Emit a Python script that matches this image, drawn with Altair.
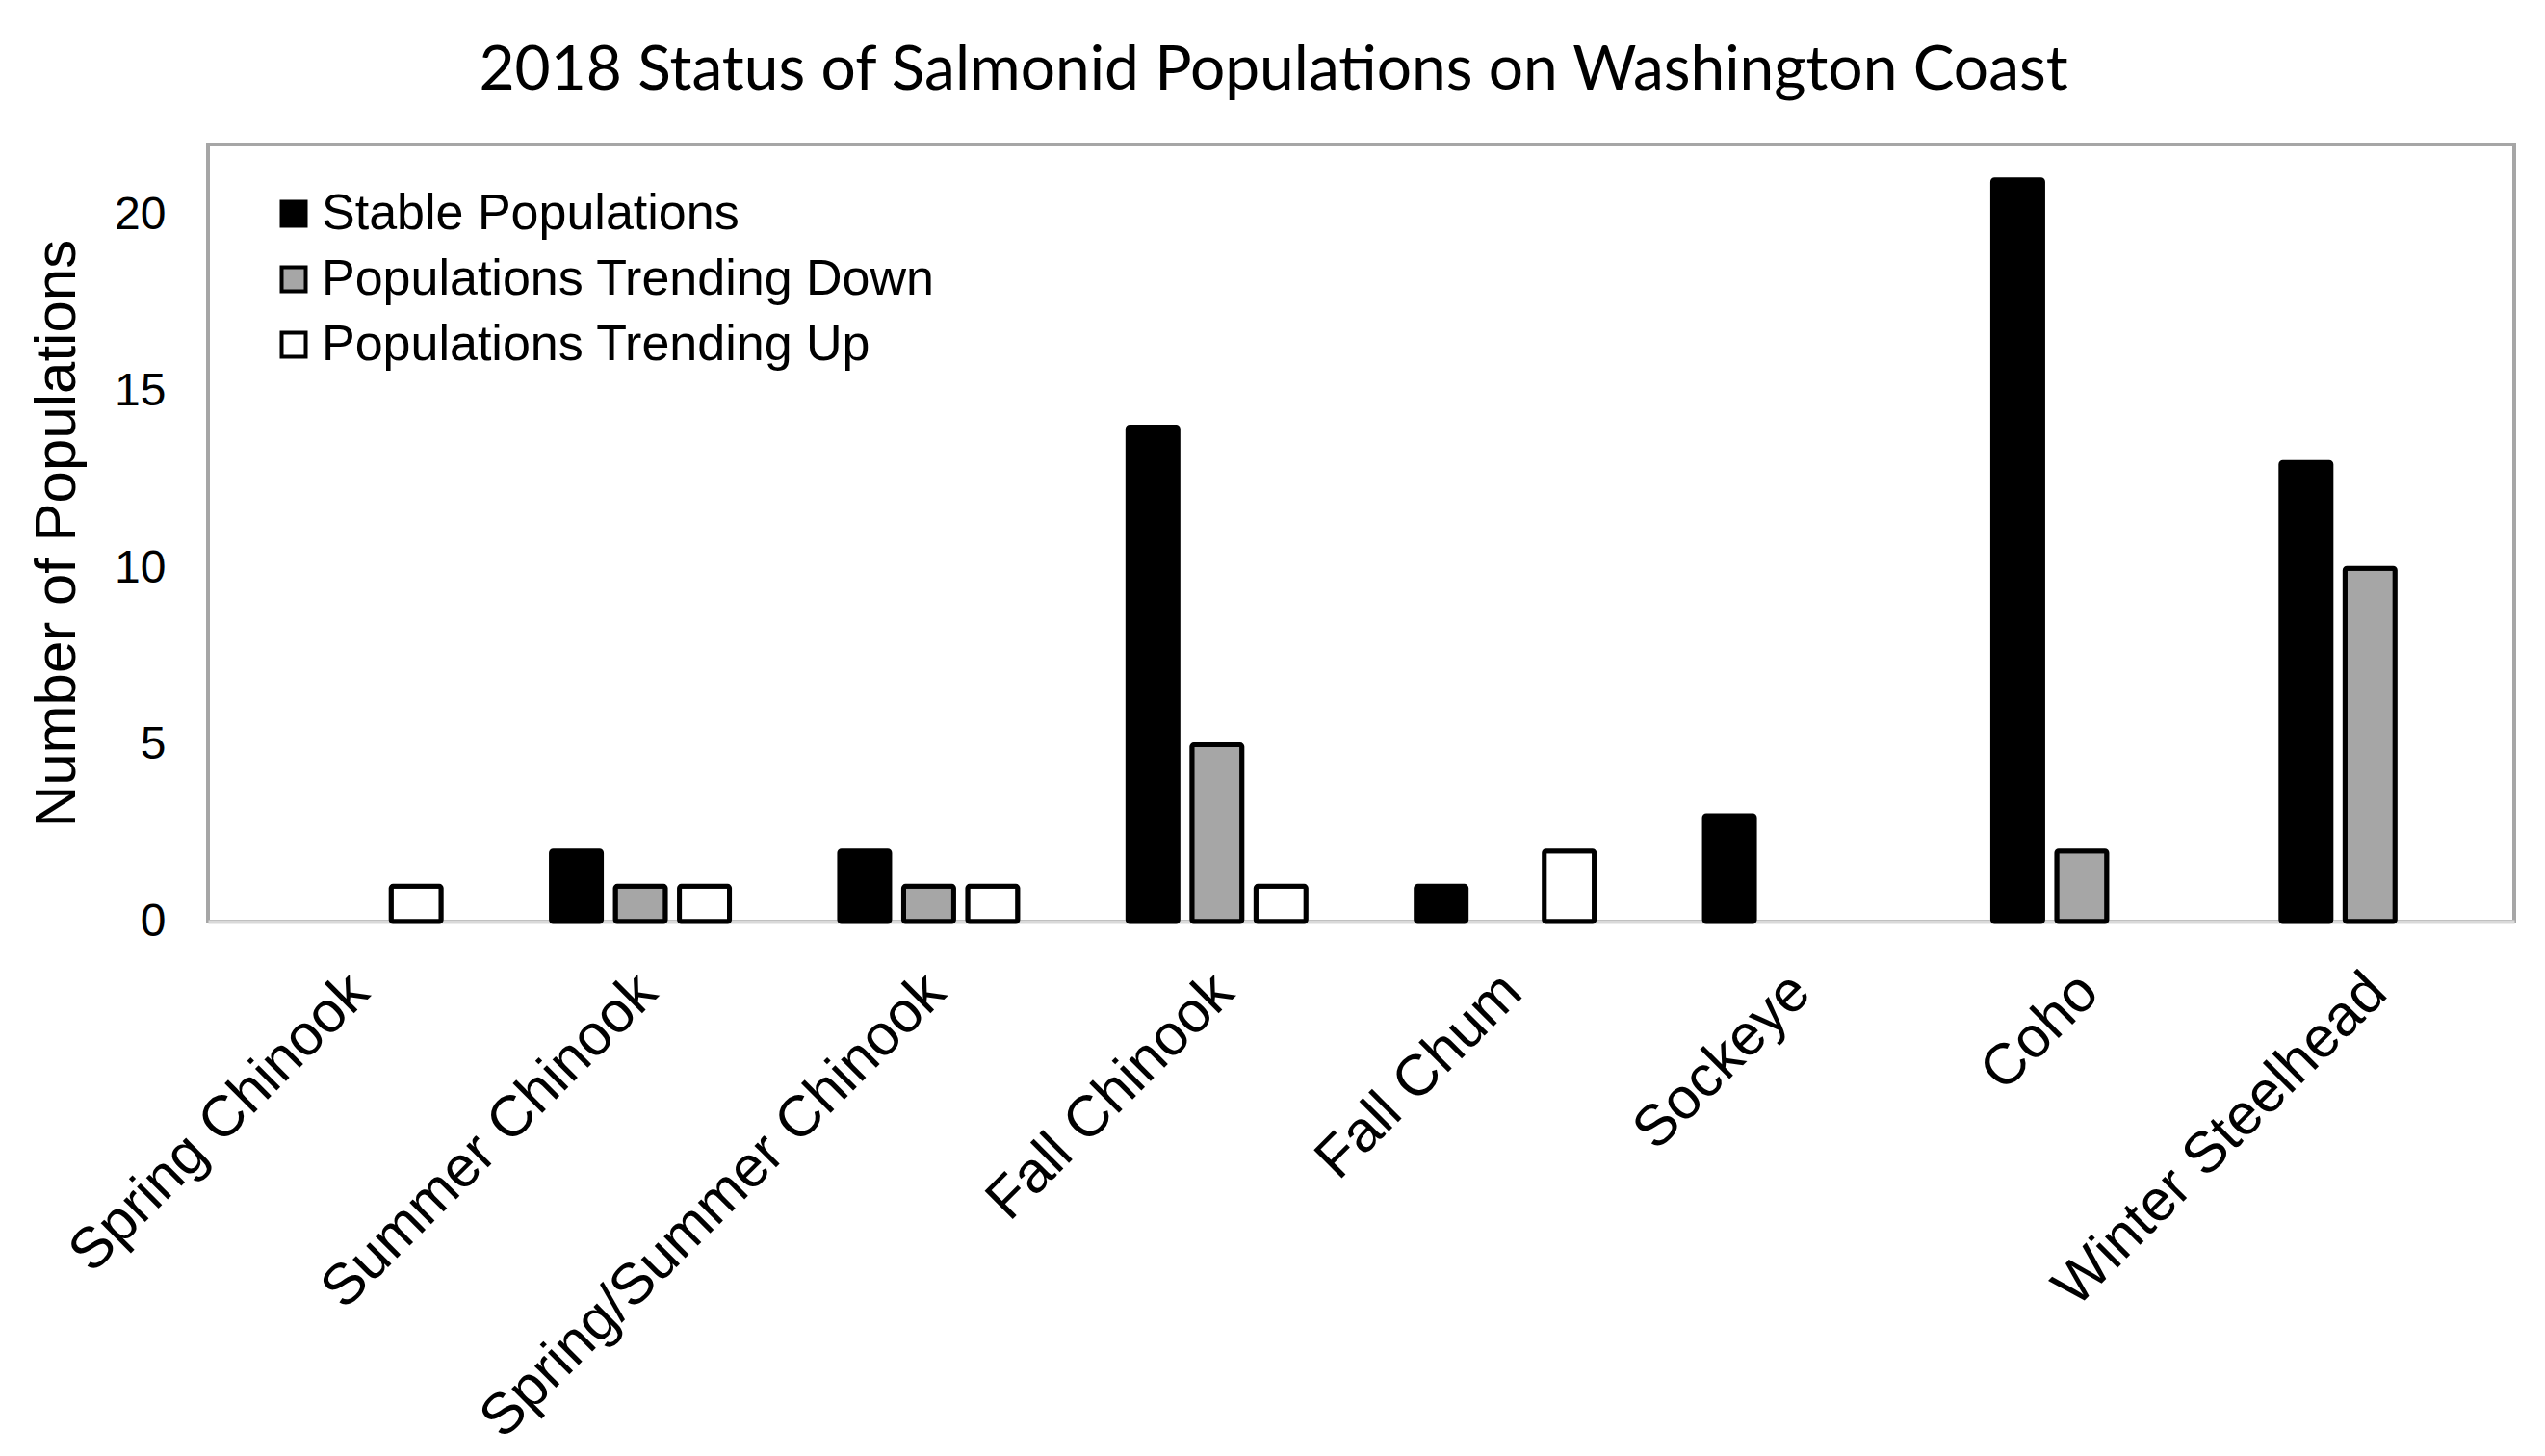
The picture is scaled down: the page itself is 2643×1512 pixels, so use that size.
import altair as alt
import pandas as pd

categories = ["Spring Chinook", "Summer Chinook", "Spring/Summer Chinook", "Fall Chinook",
              "Fall Chum", "Sockeye", "Coho", "Winter Steelhead"]
series = ["Stable Populations", "Populations Trending Down", "Populations Trending Up"]
stable = [0, 2, 2, 14, 1, 3, 21, 13]
trending_down = [0, 1, 1, 5, 0, 0, 2, 10]
trending_up = [1, 1, 1, 1, 2, 0, 0, 0]
colors = ["#000000", "#a6a6a6", "#ffffff"]
y_ticks = [0, 5, 10, 15, 20]

rows = []
for name, vals in zip(series, [stable, trending_down, trending_up]):
    for c, v in zip(categories, vals):
        rows.append({"Species": c, "Status": name, "Count": v})
df = pd.DataFrame(rows)

FONT = "Liberation Sans"

chart = alt.Chart(df).transform_filter("datum.Count > 0").mark_bar(
    stroke="black", strokeWidth=5, cornerRadius=2
).encode(
    x=alt.X("Species:N", sort=categories,
            scale=alt.Scale(domain=categories, paddingInner=0.3336, paddingOuter=0.1668),
            axis=alt.Axis(title=None, labelAngle=-45, labelFontSize=60, labelFont=FONT,
                          labelColor="black", labelPadding=43, labelOffset=-13, ticks=False,
                          domainColor="#d9d9d9", domainWidth=4, labelLimit=0)),
    xOffset=alt.XOffset("Status:N", sort=series,
                        scale=alt.Scale(domain=series, paddingInner=0.218, paddingOuter=0.109)),
    y=alt.Y("Count:Q", scale=alt.Scale(domain=[0, 22], nice=False),
            axis=alt.Axis(values=y_ticks, title="Number of Populations", grid=False,
                          ticks=False, domain=False, labelFontSize=48, labelFont=FONT,
                          labelColor="black", labelPadding=44, titleFontSize=60,
                          titleFont=FONT, titleFontWeight="normal", titleColor="black",
                          titlePadding=28)),
    fill=alt.Fill("Status:N", sort=series,
                  scale=alt.Scale(domain=series, range=colors),
                  legend=alt.Legend(title=None, orient="none", legendX=63, legendY=46,
                                    symbolType="square", symbolSize=625,
                                    symbolStrokeWidth=4, symbolStrokeColor="black",
                                    labelFontSize=52, labelFont=FONT, labelColor="black",
                                    labelOffset=3, rowPadding=16, padding=0, labelLimit=0)),
).properties(
    width=2395, height=807,
    background="white",
    autosize=alt.AutoSizeParams(type="none"),
    padding={"left": 216, "top": 150, "right": 32, "bottom": 555},
    title=alt.TitleParams("2018 Status of Salmonid Populations on Washington Coast",
                          font="Lato", fontSize=64, fontWeight="normal", color="black",
                          anchor="middle", frame="group", offset=44, dx=-91),
).configure_view(
    stroke="#a6a6a6", strokeWidth=4
)

chart.save("out.html", embed_options={"renderer": "svg", "actions": False})
